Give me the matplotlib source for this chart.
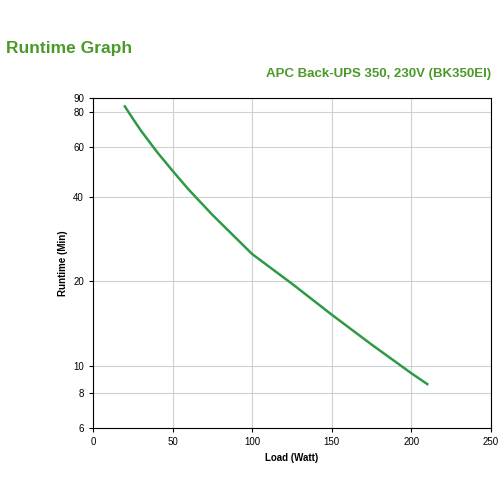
import matplotlib
matplotlib.use("Agg")
import matplotlib.pyplot as plt
from matplotlib.ticker import FixedLocator, NullLocator, FixedFormatter

load_w = [20, 25, 30, 40, 50, 60, 75, 100, 125, 150, 175, 200, 210]
runtime_min = [84, 76, 69, 58, 49.5, 42.5, 34.5, 25, 19.6, 15.2, 11.9, 9.4, 8.6]

y_ticks = [6, 8, 10, 20, 40, 60, 80, 90]
x_ticks = [0, 50, 100, 150, 200, 250]

plt.rcParams["font.family"] = ["Liberation Sans", "DejaVu Sans"]
fig = plt.figure(figsize=(5, 5), dpi=100, facecolor="white")
ax = fig.add_axes([0.186, 0.144, 0.796, 0.66])

ax.plot(load_w, runtime_min, color="#2f9a45", linewidth=1.8)
ax.set_yscale("log")
ax.set_xlim(0, 250)
ax.set_ylim(6, 90)
ax.yaxis.set_major_locator(FixedLocator(y_ticks))
ax.yaxis.set_major_formatter(FixedFormatter([str(t) for t in y_ticks]))
ax.yaxis.set_minor_locator(NullLocator())
ax.set_xticks(x_ticks)
ax.grid(True, color="#d0d0d0", linewidth=0.8)
ax.tick_params(labelsize=7, length=3)
for s in ax.spines.values():
    s.set_linewidth(0.8)

ax.set_xlabel("Load (Watt)", fontsize=7, fontweight="bold")
ax.set_ylabel("Runtime (Min)", fontsize=7, fontweight="bold")

fig.text(0.012, 0.895, "Runtime Graph", color="#4a9a2a", fontsize=12.5, fontweight="bold")
fig.text(0.982, 0.845, "APC Back-UPS 350, 230V (BK350EI)", color="#4a9a2a",
         fontsize=9.5, fontweight="bold", ha="right")

fig.savefig("out.png", dpi=100)
